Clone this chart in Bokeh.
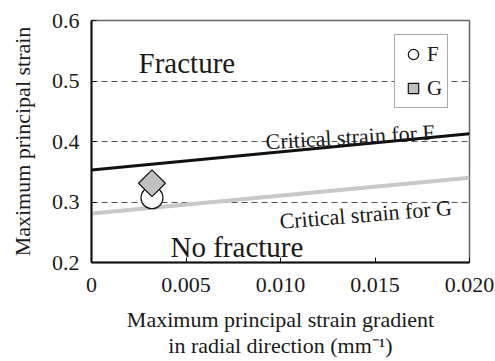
import math
from bokeh.plotting import figure
from bokeh.models import Range1d, FixedTicker, PrintfTickFormatter, Label, Legend, LegendItem
from bokeh.embed import file_html
from bokeh.resources import INLINE

# data
grad_F = [0.0032]
strain_F = [0.307]
grad_G = [0.0032]
strain_G = [0.331]
crit_x = [0.0, 0.020]
crit_F = [0.353, 0.413]
crit_G = [0.281, 0.340]
x_ticks = [0, 0.005, 0.010, 0.015, 0.020]
x_tick_labels = ["0", "0.005", "0.010", "0.015", "0.020"]
y_ticks = [0.2, 0.3, 0.4, 0.5, 0.6]

FONT = "Liberation Serif"
TXT = "#1a1a1a"

p = figure(width=495, height=361, output_backend="svg", toolbar_location=None,
           x_range=Range1d(0, 0.02), y_range=Range1d(0.2, 0.6),
           min_border_left=91, min_border_right=26, min_border_top=20, min_border_bottom=99)
p.background_fill_color = "white"
p.border_fill_color = "white"
p.outline_line_color = "#666666"
p.outline_line_width = 1.5

# grid
p.xgrid.visible = False
p.ygrid.ticker = FixedTicker(ticks=[0.3, 0.4, 0.5])
p.ygrid.grid_line_color = "#555555"
p.ygrid.grid_line_dash = "6 4"
p.ygrid.grid_line_width = 1

# axes
for ax in (p.xaxis[0], p.yaxis[0]):
    ax.axis_line_color = "#111111"
    ax.axis_line_width = 2
    ax.major_tick_in = 5
    ax.major_tick_out = 0
    ax.major_tick_line_color = "#111111"
    ax.minor_tick_line_color = None
    ax.major_label_text_font = FONT
    ax.major_label_text_font_size = "22px"
    ax.major_label_text_color = TXT
    ax.axis_label_text_font = FONT
    ax.axis_label_text_font_size = "22px"
    ax.axis_label_text_font_style = "normal"
    ax.axis_label_text_color = TXT

p.xaxis.ticker = FixedTicker(ticks=x_ticks)
p.xaxis.major_label_overrides = {t: l for t, l in zip(x_ticks, x_tick_labels)}
p.xaxis.major_label_standoff = 15
p.xaxis.axis_label = "Maximum principal strain gradient\nin radial direction (mm\u207b\u00b9)"
p.xaxis.axis_label_standoff = 12
p.xaxis.axis_label_text_line_height = 1.05

p.yaxis.ticker = FixedTicker(ticks=y_ticks)
p.yaxis.formatter = PrintfTickFormatter(format="%.1f")
p.yaxis.major_label_standoff = 12
p.yaxis.axis_label = "Maximum principal strain"
p.yaxis.axis_label_standoff = 14

# critical lines
p.line(crit_x, crit_G, line_color="#c8c8c8", line_width=4)
p.line(crit_x, crit_F, line_color="#111111", line_width=3)

# points
rF = p.scatter(grad_F, strain_F, marker="circle", size=22, fill_color="white",
               line_color="#111111", line_width=1.2)
rG = p.scatter(grad_G, strain_G, marker="square", size=19, angle=math.pi / 4,
               fill_color="#c0c0c0", line_color="#111111", line_width=1.2)

legend = Legend(items=[LegendItem(label="F", renderers=[rF]),
                       LegendItem(label="G", renderers=[rG])],
                location=(303, 154), margin=0, padding=5, spacing=6,
                glyph_width=26, glyph_height=28, label_standoff=1, label_width=14,
                label_text_font=FONT, label_text_font_size="21px", label_text_color=TXT,
                border_line_color="#555555", border_line_width=1,
                background_fill_color="white", background_fill_alpha=1.0)
p.add_layout(legend)

# annotations
p.add_layout(Label(x=0.00249, y=0.529, text="Fracture", text_font=FONT,
                   text_font_size="29px", text_color=TXT, text_baseline="alphabetic"))
p.add_layout(Label(x=0.00418, y=0.2248, text="No fracture", text_font=FONT,
                   text_font_size="29px", text_color=TXT, text_baseline="alphabetic"))
p.add_layout(Label(x=0.00921, y=0.3995, text="Critical strain for F", text_font=FONT,
                   text_font_size="22px", text_color=TXT, text_baseline="alphabetic",
                   angle=3.3, angle_units="deg"))
p.add_layout(Label(x=0.00995, y=0.268, text="Critical strain for G", text_font=FONT,
                   text_font_size="22px", text_color=TXT, text_baseline="alphabetic",
                   angle=4.6, angle_units="deg"))

open("out.html", "w").write(file_html(p, INLINE))
